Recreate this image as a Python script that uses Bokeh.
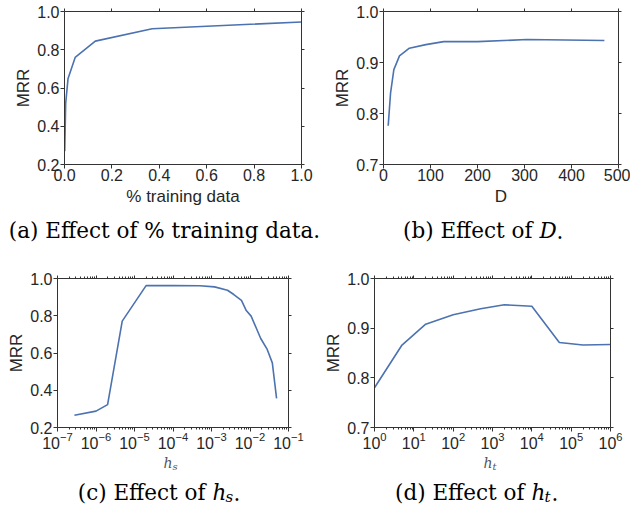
from bokeh.plotting import figure
from bokeh.layouts import column, row
from bokeh.models import Range1d, LinearAxis, LogAxis, FixedTicker, PrintfTickFormatter, Label
from bokeh.embed import file_html
from bokeh.resources import INLINE

# ---------------- data ----------------
a_frac = [0.001, 0.005, 0.015, 0.045, 0.13, 0.37, 1.0]
a_mrr = [0.27, 0.52, 0.65, 0.76, 0.845, 0.91, 0.945]

b_D = [10, 15, 22, 34, 55, 90, 128, 200, 305, 470]
b_mrr = [0.776, 0.84, 0.886, 0.913, 0.928, 0.935, 0.941, 0.941, 0.945, 0.943]

c_hs = [2.75e-7, 1e-6, 2e-6, 4.8e-6, 2e-5, 1e-4, 5e-4, 1.2e-3, 2.6e-3, 3.8e-3,
        6e-3, 8e-3, 1.07e-2, 1.9e-2, 2.8e-2, 3.8e-2, 4.9e-2]
c_mrr = [0.266, 0.288, 0.323, 0.771, 0.962, 0.962, 0.961, 0.955, 0.937, 0.914,
         0.883, 0.828, 0.798, 0.678, 0.619, 0.547, 0.356]

d_ht = [1, 5, 20, 100, 500, 2000, 1e4, 5e4, 2e5, 1e6]
d_mrr = [0.78, 0.866, 0.908, 0.927, 0.939, 0.947, 0.944, 0.871, 0.866, 0.867]

a_xticks = [0.0, 0.2, 0.4, 0.6, 0.8, 1.0]
a_yticks = [0.2, 0.4, 0.6, 0.8, 1.0]
b_xticks = [0, 100, 200, 300, 400, 500]
b_yticks = [0.7, 0.8, 0.9, 1.0]
c_xticks = [1e-7, 1e-6, 1e-5, 1e-4, 1e-3, 1e-2, 1e-1]
c_yticks = [0.2, 0.4, 0.6, 0.8, 1.0]
d_xticks = [1e0, 1e1, 1e2, 1e3, 1e4, 1e5, 1e6]
d_yticks = [0.7, 0.8, 0.9, 1.0]

LINE = "#4c72b0"
SPINE = "#333333"
TEXT = "#262626"
SANS = "Liberation Sans"
SERIF = "DejaVu Serif"
CAP = "21.5px"


def minor_log(ticks):
    out = []
    for t in ticks[:-1]:
        for m in range(2, 10):
            out.append(t * m)
    return out


def style_axis(ax, labels=True, tick_standoff=0, label_standoff=4):
    ax.axis_line_color = SPINE
    ax.axis_line_width = 1
    ax.major_tick_line_color = SPINE
    ax.major_tick_in = 0
    ax.major_tick_out = 4 if labels else 3
    ax.minor_tick_line_color = None
    if labels:
        ax.major_label_text_font = SANS
        ax.major_label_text_font_size = "16px"
        ax.major_label_text_color = TEXT
        ax.major_label_standoff = tick_standoff
        ax.axis_label_text_font = SANS
        ax.axis_label_text_font_size = "17px"
        ax.axis_label_text_font_style = "normal"
        ax.axis_label_text_color = TEXT
        ax.axis_label_standoff = label_standoff
    else:
        ax.major_label_text_font_size = "0px"
        ax.major_label_text_color = None
        ax.major_label_standoff = 0
        ax.axis_label = None
        ax.axis_label_text_font_size = "0px"
        ax.axis_label_standoff = 0


def panel(width, height, bl, br, bt, bb, xr, yr, xlog, xticks, yticks, xfmt, yfmt, xlabel):
    p = figure(width=width, height=height,
               x_range=Range1d(*xr), y_range=Range1d(*yr),
               x_axis_type="log" if xlog else "linear",
               output_backend="svg", toolbar_location=None,
               min_border_left=bl, min_border_right=br,
               min_border_top=bt, min_border_bottom=bb)
    p.title = None
    p.outline_line_color = None
    p.grid.visible = False
    p.background_fill_color = "white"
    p.border_fill_color = "white"
    top = LogAxis() if xlog else LinearAxis()
    right = LinearAxis()
    p.add_layout(top, "above")
    p.add_layout(right, "right")
    for ax in p.xaxis:
        if xlog:
            ax.ticker = FixedTicker(ticks=xticks, minor_ticks=minor_log(xticks))
        else:
            ax.ticker = FixedTicker(ticks=xticks)
    for ax in p.yaxis:
        ax.ticker = FixedTicker(ticks=yticks)
    bottom_ax = p.below[0]
    left_ax = p.left[0]
    style_axis(bottom_ax, True, 0, 3)
    style_axis(left_ax, True, 1, 1)
    style_axis(top, False)
    style_axis(right, False)
    top.formatter = PrintfTickFormatter(format="%g")
    right.formatter = PrintfTickFormatter(format="%g")
    if xfmt is not None:
        bottom_ax.formatter = PrintfTickFormatter(format=xfmt)
    left_ax.formatter = PrintfTickFormatter(format=yfmt)
    if xlog:
        for ax in (bottom_ax, top):
            ax.minor_tick_line_color = SPINE
            ax.minor_tick_in = 0
            ax.minor_tick_out = 2
    if xlabel:
        bottom_ax.axis_label = xlabel
    left_ax.axis_label = "MRR"
    return p


def strip(width, height):
    s = figure(width=width, height=height, x_range=Range1d(0, width), y_range=Range1d(0, height),
               output_backend="svg", toolbar_location=None,
               x_axis_location=None, y_axis_location=None,
               min_border=0, min_border_left=0, min_border_right=0,
               min_border_top=0, min_border_bottom=0)
    s.title = None
    s.outline_line_color = None
    s.grid.visible = False
    s.background_fill_color = "white"
    s.border_fill_color = "white"
    return s


def lab(p, x, y, text, size, italic=False, align="left", font=SERIF, color="black"):
    p.add_layout(Label(x=x, y=y, text=text,
                       text_font=font, text_font_size=size,
                       text_font_style="italic" if italic else "normal",
                       text_color=color, text_align=align, text_baseline="alphabetic"))


# (a)
pa = panel(318, 214, 64, 17, 8, 50, (0, 1), (0.2, 1.0), False,
           a_xticks, a_yticks, "%.1f", "%.1f", "% training data")
pa.line(a_frac, a_mrr, line_color=LINE, line_width=1.6)
sa = strip(322, 42)
CY1 = 26
lab(sa, 164, CY1, "(a) Effect of % training data.", CAP, align="center")

# (b)
pb = panel(312, 214, 65, 12, 11, 50, (0, 500), (0.7, 1.0), False,
           b_xticks, b_yticks, "%d", "%.1f", "D")
pb.line(b_D, b_mrr, line_color=LINE, line_width=1.6)
sb = strip(308, 42)
xs_b = 217
lab(sb, xs_b - 7, CY1, "(b) Effect of", CAP, align="right")
lab(sb, xs_b, CY1, "D", CAP, italic=True)
lab(sb, xs_b + 17, CY1, ".", CAP)

# (c)
pc = panel(318, 196, 57, 30, 22, 24, (1e-7, 1e-1), (0.2, 1.0), True,
           c_xticks, c_yticks, None, "%.1f", "")
pc.line(c_hs, c_mrr, line_color=LINE, line_width=1.6)
sc = strip(318, 53)
HY = 43
CY2 = 13
lab(sc, 163, HY, "h", "14px", italic=True, color="#555555")
lab(sc, 172, HY - 4, "s", "10px", italic=True, color="#555555")
xs_c = 212
lab(sc, xs_c - 7, CY2, "(c) Effect of", CAP, align="right")
lab(sc, xs_c, CY2, "h", CAP, italic=True)
lab(sc, xs_c + 13, CY2 - 4, "s", "15px", italic=True)
lab(sc, xs_c + 21, CY2, ".", CAP)

# (d)
pd = panel(312, 196, 56, 20, 20, 25, (1, 1e6), (0.7, 1.0), True,
           d_xticks, d_yticks, None, "%.1f", "")
pd.line(d_ht, d_mrr, line_color=LINE, line_width=1.6)
sd = strip(312, 53)
lab(sd, 165, HY, "h", "14px", italic=True, color="#555555")
lab(sd, 174, HY - 4, "t", "10px", italic=True, color="#555555")
xs_d = 213
lab(sd, xs_d - 7, CY2, "(d) Effect of", CAP, align="right")
lab(sd, xs_d, CY2, "h", CAP, italic=True)
lab(sd, xs_d + 13, CY2 - 4, "t", "15px", italic=True)
lab(sd, xs_d + 20, CY2, ".", CAP)

layout = column(row(pa, pb), row(sa, sb), row(pc, pd), row(sc, sd))
open("out.html", "w").write(file_html(layout, INLINE))
